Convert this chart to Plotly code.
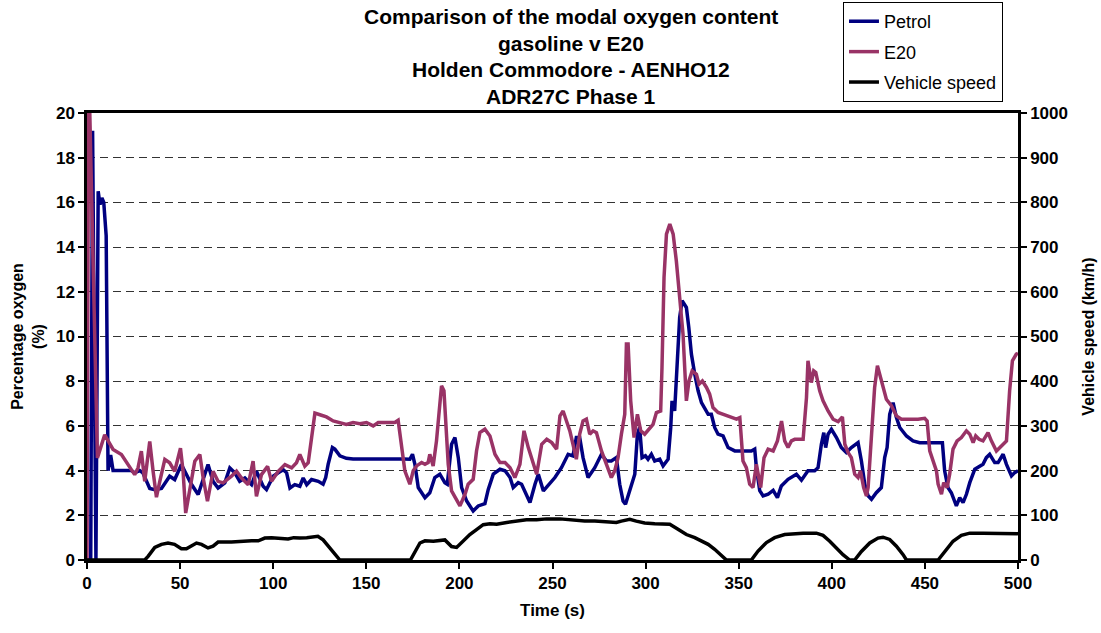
import plotly.graph_objects as go

# data
petrol_time = [0, 2.0, 3.0, 4.8, 6.0, 7.0, 8.0, 9.0, 10.3, 11.3, 12.7, 14, 16.7, 23.8, 25.6, 28.3, 30,
               33.7, 36.4, 40, 44.4, 47.1, 50.7, 52.5, 56, 59.7, 65, 67.7, 70.4, 74, 76.7, 79.4, 82,
               84.8, 88.4, 91, 94.6, 96.4, 100, 102.7, 105.4, 107.2, 109, 111.6, 114.3, 116.1, 118,
               120.6, 124.2, 126.8, 128.2, 129.5, 131.8, 133.1, 135.8, 139.3, 142.9, 169.8, 173.4,
               174.8, 176.1, 177.9, 181.5, 184.1, 186.8, 189.5, 192.2, 193.5, 195.8, 197.6, 199.4,
               201.2, 203.9, 207.4, 210.1, 213.7, 215.5, 218.2, 221.8, 224.5, 227.2, 228.9, 231.6,
               233.4, 236.1, 237.9, 240.6, 242.4, 245.1, 248.7, 251.3, 254.8, 258.4, 261, 262.8,
               264.6, 266.4, 269.1, 272.7, 276.3, 279, 281.6, 284.3, 286.1, 287.9, 289.2, 291.5,
               294.2, 295.6, 296.8, 298.1, 299.9, 301.3, 303.1, 304.9, 307.6, 309.4, 312.1, 313.5,
               314.2, 315.6, 316.9, 318.3, 319.6, 321.9, 323.2, 324.6, 326.4, 328.2, 330, 331.8,
               333.6, 335.3, 337.1, 338.9, 341.6, 344.3, 347.9, 351.5, 356.8, 358.6, 359.5, 361.3,
               363.1, 365.8, 368.5, 370.8, 372.9, 376.5, 381, 383.7, 387.2, 390.8, 392.6, 394.4,
               395.7, 396.7, 398, 399.8, 402.5, 405.1, 407.8, 410.5, 414.1, 415.9, 417.7, 419.5,
               421.3, 423.9, 426.6, 428.4, 429.7, 431.1, 432.9, 434.7, 436.5, 440.1, 443.6, 447.2,
               452.6, 459.4, 460.6, 462.4, 464.2, 466.9, 468.7, 470.5, 472.3, 474.1, 476.8, 479.4,
               481.2, 483, 484.8, 487.5, 489.3, 492, 493.8, 496.5, 498.2, 500]
petrol_pct = [0, 0, 19.2, 0, 16.5, 15.9, 16.2, 16.0, 14.5, 4.0, 4.7, 4.0, 4.0, 4.0, 3.9, 4.0, 3.9,
              3.2, 3.15, 3.2, 3.75, 3.6, 4.27, 3.97, 3.4, 2.93, 4.27, 3.52, 3.22, 3.45, 4.12, 3.9, 3.52,
              3.67, 3.37, 3.97, 3.3, 3.15, 3.75, 3.9, 4.04, 3.9, 3.22, 3.37, 3.3, 3.67, 3.37,
              3.6, 3.52, 3.39, 3.69, 4.28, 5.03, 4.96, 4.66, 4.55, 4.52, 4.52, 4.51,
              4.73, 4.28, 3.24, 2.79, 3.01, 3.69, 3.84, 3.46, 3.39, 5.18, 5.48, 4.58,
              3.24, 2.64, 2.19, 2.42, 2.52, 3.16, 3.84, 4.06, 3.99, 3.69, 3.24, 3.46,
              3.39, 2.87, 2.57, 3.39, 3.84, 3.09, 3.46, 3.69, 4.13, 4.73, 4.66, 5.48,
              5.48, 4.58, 3.69, 4.13, 4.73, 4.43, 4.43, 4.58, 3.39, 2.64, 2.49, 3.09,
              3.84, 5.63, 5.93, 4.58, 4.66, 4.51, 4.73, 4.43, 4.51, 4.21, 4.51, 5.93,
              7.12, 6.67, 8.61, 10.85, 11.6, 11.3, 10.4, 9.21, 8.31, 7.57, 7.04, 6.75,
              6.52, 6.52, 5.93, 5.63, 5.55, 5.03, 4.88, 4.88, 4.88, 4.96, 4.13, 3.1,
              2.87, 2.94, 3.12, 2.79, 3.31, 3.61, 3.84, 3.57, 3.99, 3.99, 4.13, 5.18,
              5.7, 5.03, 5.63, 5.85, 5.48, 5.03, 4.81, 5.03, 5.25, 4.43, 3.39, 2.87,
              2.72, 3.01, 3.24, 4.58, 5.03, 6.52, 7.04, 6.37, 5.93, 5.55, 5.33, 5.25,
              5.25, 5.25, 3.99, 3.24, 3.01, 2.42, 2.79, 2.57, 2.94, 3.46, 4.06, 4.21,
              4.28, 4.58, 4.73, 4.36, 4.36, 4.73, 4.28, 3.76, 3.91, 3.99]

e20_time = [0, 0.8, 1.5, 5.6, 9.5, 12.2, 14, 18.5, 22, 25.6, 27.4, 29.2, 31, 33.7, 35.5, 37.3, 39.1,
            41.8, 44.4, 47.1, 50.2, 51.6, 53, 55.2, 57.9, 60.6, 62.4, 64.7, 67.7, 70.4, 73.1, 77.6,
            80.3, 83, 86.6, 89.2, 91, 93.7, 97, 99.1, 102.7, 106.3, 109.9, 112.5, 114.3, 117, 118.8,
            120.6, 122.4, 125.1, 128.6, 132.2, 135.8, 139.3, 142.9, 146.5, 150.1, 153.7, 156.4,
            160.8, 165.3, 167.1, 168.9, 170.7, 173.4, 175.2, 177, 179.7, 181.5, 183.2, 184.1, 185.9,
            187.7, 189.2, 190.4, 191.7, 192.7, 194, 195.8, 198.5, 200.3, 203, 204.7, 207.4, 209.2,
            211, 213.7, 216.4, 219.1, 221.8, 224.5, 227.2, 229.8, 232.5, 234.7, 237, 239.7, 241.5,
            244.2, 246.9, 249.6, 252.2, 254, 255.7, 257.5, 259.3, 261, 262.8, 264.6, 266.4, 268.2,
            270, 271.8, 273.6, 276.3, 279, 281.6, 283.4, 285.2, 287, 288.8, 289.7, 290.6, 292,
            293.8, 295.6, 297.4, 299.5, 302.2, 304, 305.8, 308.1, 308.8, 309.9, 311.2, 313, 314.8,
            316.5, 318.3, 320.1, 321.9, 323.3, 325, 327.3, 328.7, 330.5, 332.7, 334.4, 336.2,
            338.9, 342.5, 346.1, 348.8, 350.6, 352.3, 354.1, 355.9, 357.7, 359.5, 361.8, 363.6,
            365.8, 368.5, 370.8, 373, 374.7, 376.5, 378.3, 380.1, 384.6, 386.4, 387.2, 388.1, 389,
            390.3, 391.4, 393.5, 395.3, 398, 400.7, 403.4, 405.7, 407, 408.7, 410.5, 412.3, 414.1,
            415.4, 417.1, 418.6, 419.5, 421.3, 423, 424.5, 426.6, 429.3, 432, 434.7, 437.4, 441.8,
            446.3, 449.9, 451.2, 452.6, 454.4, 456.2, 457.1, 458.9, 460.1, 461.9, 463.3, 465.1,
            467.3, 469.6, 472.3, 474.1, 475.9, 477.3, 479.1, 481.2, 483.9, 485.7, 488.4, 491.1,
            493.8, 495.5, 497, 499.1, 500]
e20_pct = [0, 20, 20, 4.57, 5.6, 5.22, 4.95, 4.72, 4.27, 3.82, 4.12, 4.87, 3.52, 5.3, 3.97, 2.81, 3.52,
           4.5, 4.35, 3.97, 5.0, 3.97, 2.1, 3.22, 4.42, 4.72, 3.67, 2.63, 3.97, 3.52, 3.45, 3.75,
           3.97, 3.67, 3.37, 4.42, 2.85, 3.82, 4.19, 3.52, 3.97, 4.27, 4.12, 4.35, 4.72, 4.2, 4.35,
           5.46, 6.57, 6.5, 6.4, 6.22, 6.15, 6.07, 6.15, 6.1, 6.15, 6.0, 6.15,
           6.15, 6.15, 6.25, 5.03, 3.99, 3.39, 3.99, 4.21, 4.36, 4.28, 4.36, 4.73, 4.21,
           5.33, 6.97, 7.79, 7.57, 5.78, 4.28, 3.09, 2.64, 2.42, 2.94, 3.39, 3.61, 4.88,
           5.7, 5.85, 5.55, 4.73, 4.36, 4.36, 4.13, 3.69, 4.28, 5.78, 5.03, 4.28, 3.84,
           5.18, 5.4, 5.25, 4.96, 6.45, 6.67, 6.22, 5.78, 5.18, 4.51, 5.63, 6.22, 6.3,
           5.63, 5.78, 5.7, 4.88, 4.28, 3.69, 3.99, 4.58, 5.63, 6.52, 9.66, 9.66, 7.12,
           5.48, 6.52, 5.78, 5.63, 5.93, 6.07, 6.6, 6.67, 8.61, 12.64, 14.58, 15.03, 14.58,
           13.39, 11.75, 10.1, 7.12, 8.01, 8.46, 8.31, 7.87, 8.01, 7.72, 7.42, 6.82,
           6.6, 6.49, 6.37, 6.3, 6.37, 4.43, 4.13, 3.39, 3.24, 4.28, 3.24, 4.58,
           4.96, 4.88, 5.33, 6.22, 5.33, 5.03, 5.33, 5.4, 5.4, 7.27, 8.91, 8.31, 7.94,
           8.46, 8.39, 7.57, 7.12, 6.67, 6.3, 6.19, 6.4, 5.18, 4.81, 4.58, 3.84, 3.69,
           3.99, 3.24, 2.87, 3.24, 5.48, 7.72, 8.69, 8.01, 7.19, 6.9, 6.45, 6.3, 6.3,
           6.3, 6.34, 6.22, 4.88, 4.43, 3.99, 3.39, 2.94, 3.46, 3.24, 3.84, 4.96,
           5.33, 5.48, 5.78, 5.63, 5.25, 5.55, 5.4, 5.33, 5.7, 5.33, 4.88, 5.1,
           5.33, 7.57, 8.91, 9.21, 9.25]

speed_time = [0, 31, 32.8, 36.4, 40, 43.5, 47, 50.7, 53.4, 56, 58.8, 61.5, 65, 67.7, 70.4, 77.6, 83,
              88.4, 92, 95.5, 99.1, 102.7, 106.3, 108, 111, 114.3, 118, 120.6, 124, 126.8, 130.4,
              133, 135.8, 173.7, 176, 178.8, 181.5, 186, 192.2, 195.8, 198.5, 202, 205.6, 209.2,
              212.8, 216.4, 220, 225.4, 230.7, 236, 241.5, 246.9, 254, 256.6, 262, 267.3, 272.7,
              278, 284.3, 287, 291.5, 295, 299.5, 304.9, 310.3, 313, 317.4, 321.9, 326.4, 330,
              333.6, 337.1, 340.7, 343.4, 356.8, 360.4, 364.9, 369.3, 374.7, 380, 384.6, 391.7,
              395.3, 398.9, 402.5, 406, 409.6, 412.3, 415.9, 420.4, 424.8, 427.5, 431.1, 434.7,
              438.3, 440.1, 457.1, 460.6, 465.1, 469.6, 474.1, 481.2, 490, 500]
speed_kmh = [0, 0, 8, 28, 35, 38, 35, 25, 25, 31, 38, 35, 27, 31, 40, 40, 42,
             43, 43, 49, 50, 49, 49, 47, 50, 49, 50, 51, 53, 45, 27,
             12, 0, 0, 19, 38, 43, 42, 45, 30, 28, 42, 57, 68,
             79, 81, 80, 84, 87, 90, 90, 92, 92, 91, 89, 87, 87,
             85, 84, 87, 91, 87, 83, 81, 81, 80, 69, 57, 50, 43,
             35, 24, 9, 0, 0, 20, 39, 50, 57, 59, 60, 60,
             55, 42, 27, 12, 0, 0, 19, 38, 49, 51, 46, 31,
             12, 0, 0, 19, 42, 55, 60, 60, 59, 59]

title_lines = ['Comparison of the modal oxygen content', 'gasoline v E20',
               'Holden Commodore - AENHO12', 'ADR27C Phase 1']

FONT = 'Liberation Sans, Arial, sans-serif'

fig = go.Figure()

fig.add_trace(go.Scatter(x=petrol_time, y=petrol_pct, name='Petrol', mode='lines',
                         line=dict(color='#000080', width=3.5), legendgroup='p'))
fig.add_trace(go.Scatter(x=e20_time, y=e20_pct, name='E20', mode='lines',
                         line=dict(color='#993366', width=3.5), legendgroup='e'))
fig.add_trace(go.Scatter(x=speed_time, y=speed_kmh, name='Vehicle speed', mode='lines',
                         line=dict(color='black', width=3.5), legendgroup='s', yaxis='y2'))

# title lines as separate annotations so the line spacing matches
title_y = [1.2148, 1.1555, 1.0962, 1.0369]
for txt, yy in zip(title_lines, title_y):
    fig.add_annotation(text=txt, x=0.52, y=yy, xref='paper', yref='paper',
                       showarrow=False, xanchor='center', yanchor='middle',
                       font=dict(family=FONT, size=21, color='black', weight='bold'))

axis_common = dict(ticks='outside', ticklen=6, tickwidth=1.5, tickcolor='black',
                   showline=True, linewidth=2.5, linecolor='black', zeroline=False,
                   automargin=False,
                   tickfont=dict(family=FONT, size=17, color='black', weight='bold'))

fig.update_layout(
    width=1101, height=633,
    margin=dict(l=87, r=83, t=113, b=73),
    paper_bgcolor='white', plot_bgcolor='white',
    font=dict(family=FONT, color='black'),
    showlegend=True,
    legend=dict(xref='paper', yref='container', x=0.812, y=0.9968,
                xanchor='left', yanchor='top',
                bgcolor='white', bordercolor='black', borderwidth=1,
                font=dict(family=FONT, size=18, color='black'),
                tracegroupgap=4),
    xaxis=dict(range=[0, 500], tick0=0, dtick=50, showgrid=False, mirror=True,
               title=dict(text='Time (s)', standoff=12,
                          font=dict(family=FONT, size=17, weight='bold')),
               **axis_common),
    yaxis=dict(range=[0, 20], tick0=0, dtick=2, showgrid=True, gridcolor='#333333',
               gridwidth=1, griddash='8px,5px',
               title=dict(text='Percentage oxygen<br>(%)', standoff=8,
                          font=dict(family=FONT, size=16, weight='bold')),
               **axis_common),
    yaxis2=dict(range=[0, 1000], tick0=0, dtick=100, overlaying='y', side='right',
                showgrid=False,
                title=dict(text='Vehicle speed (km/h)', standoff=16,
                           font=dict(family=FONT, size=16, weight='bold')),
                **axis_common),
)

# drop the default page margin so the figure sits at the window origin
fig.write_html('out.html', config={'displayModeBar': False},
               post_script="document.body.style.margin='0px';")
